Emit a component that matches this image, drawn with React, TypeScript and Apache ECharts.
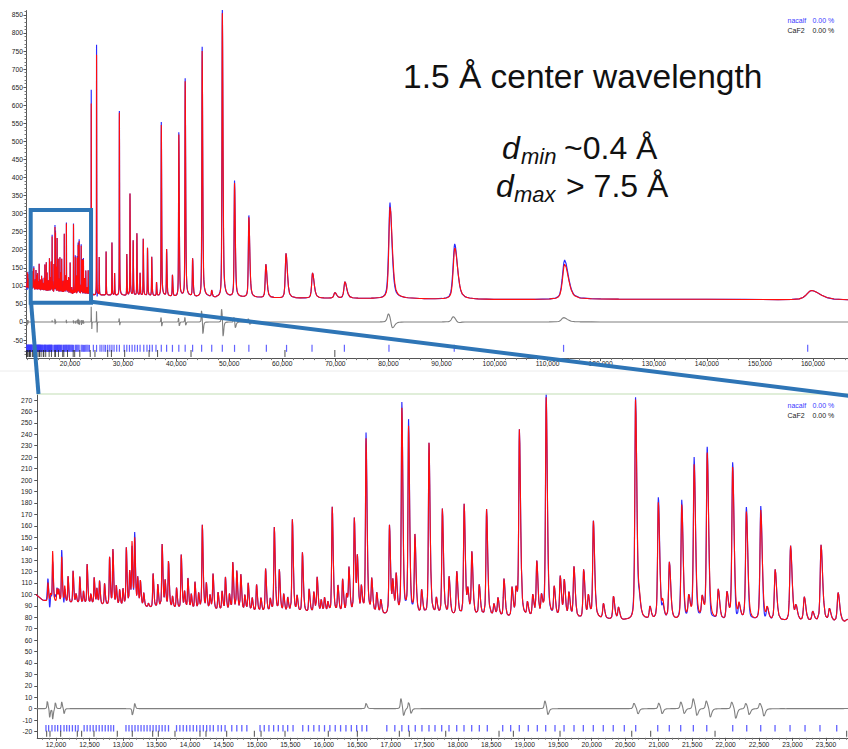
import { useEffect, useRef } from "react";
import * as echarts from "echarts";

// ---------- data ----------
// background level (TOF, counts)
const bgX = [11700, 11800, 12000, 12500, 13000, 13500, 14000, 14500, 15000, 16000, 17000, 18000, 19000, 20000, 21000, 22000, 23000, 24000, 30000, 40000, 50000, 60000, 80000, 100000, 120000, 140000, 160000, 175000];
const bgY = [100, 95, 92, 91, 89, 88, 86, 85, 84, 83, 82, 81, 79, 78, 77, 76, 76, 75, 74, 71, 69, 66, 65, 62, 63, 63, 61, 60];

// peak half width at half maximum vs TOF
const widthX = [11700, 16000, 20000, 24000, 35000, 50000, 60000, 80000, 93000, 113000, 160000, 175000];
const widthW = [9, 13, 17, 22, 55, 120, 230, 380, 500, 650, 1500, 1600];

// peaks in the zoomed region (TOF, peak top)
const peakX = [11880, 11950, 12015, 12085, 12180, 12255, 12355, 12465, 12570, 12650, 12725, 12800, 12850, 12950, 13050, 13135, 13175, 13310, 13450, 13585, 13680, 13800, 13870, 13970, 14075, 14185, 14245, 14345, 14420, 14530, 14640, 14700, 14760, 14870, 14995, 15130, 15260, 15335, 15400, 15530, 15680, 15780, 15850, 15900, 16010, 16125, 16210, 16280, 16375, 16455, 16500, 16630, 16715, 16790, 16980, 17080, 17165, 17265, 17360, 17570, 17770, 17870, 17985, 18095, 18210, 18320, 18430, 18690, 18810, 18920, 19040, 19180, 19320, 19440, 19530, 19590, 19735, 19880, 20025, 20175, 20325, 20655, 20710, 20995, 21160, 21345, 21530, 21725, 21890, 22105, 22310, 22525, 22740, 22970, 23175, 23425, 23680];
const peakH = [110, 137, 104, 132, 115, 120, 115, 126, 114, 111, 109, 132, 138, 103, 140, 143, 146, 100, 118, 143, 128, 105, 134, 113, 110, 160, 108, 117, 101, 114, 127, 119, 116, 109, 108, 122, 158, 120, 99, 165, 136, 104, 101, 114, 96, 176, 106, 112, 121, 165, 128, 235, 111, 100, 160, 115, 261, 244, 149, 232, 174, 114, 119, 178, 135, 107, 174, 113, 105, 242, 91, 127, 271, 104, 114, 110, 123, 121, 163, 91, 98, 270, 90, 180, 127, 178, 212, 222, 103, 210, 171, 173, 121, 142, 97, 143, 101];

// small peaks / shoulders in the zoomed region
const minorPeakX = [11920, 12040, 12130, 12300, 12410, 12520, 12610, 12900, 13000, 13100, 13220, 13260, 13380, 13520, 13630, 13740, 13920, 14020, 14130, 14300, 14480, 14590, 14820, 14930, 15060, 15200, 15460, 15600, 15960, 16060, 16340, 16560, 16850, 17030, 17460, 17680, 18150, 18540, 18600, 18870, 19120, 19250, 19660, 19950, 20400, 20870, 21060, 21450, 21650, 22020, 22200, 22620, 23050, 23300, 23550];
const minorPeakH = [100, 103, 106, 100, 102, 100, 104, 106, 104, 118, 112, 110, 92, 108, 110, 97, 101, 99, 100, 98, 102, 99, 98, 96, 96, 95, 96, 97, 94, 92, 98, 104, 94, 108, 102, 95, 100, 90, 96, 102, 98, 96, 100, 97, 88, 88, 90, 96, 94, 100, 88, 86, 88, 84, 86];

// peaks beyond the zoomed region (full pattern)
const farPeakX = [24000, 25000, 25500, 26800, 27900, 28400, 29300, 30700, 31300, 31900, 32600, 33200, 33800, 34600, 35400, 36300, 37200, 38200, 39300, 40500, 41700, 43100, 44900, 46700, 48700, 51000, 53700, 56900, 60700, 65700, 69900, 71800, 80300, 92500, 113200, 159700];
const farPeakH = [605, 740, 180, 195, 220, 135, 580, 188, 355, 225, 245, 135, 230, 205, 180, 110, 545, 200, 130, 520, 665, 175, 750, 88, 855, 385, 290, 160, 190, 136, 81, 111, 318, 205, 160, 87];

// observed minus calculated misfits (TOF, counts)
const misfitX = [11870, 11905, 11950, 11990, 12085, 12120, 13140, 13175, 16630, 17150, 17190, 17265, 17300, 19300, 19345, 20630, 20690, 21000, 21050, 21330, 21380, 21515, 21570, 21710, 21770, 22090, 22150, 22300, 22350, 22510, 22570, 23990, 24110, 24990, 25110, 29250, 29380, 37150, 37280, 40450, 40580, 41650, 41780, 44780, 45040, 48560, 48840, 50900, 51140, 53600, 53850, 80000, 80700, 92200, 93000, 113000];
const misfitH = [7, -8, -9, 6, 6, -5, -6, 5, 5, 9, -7, 6, -5, 7, -6, 5, -5, 5, -5, 6, -5, 9, -7, 7, -8, 6, -9, 5, -6, 5, -7, 42, -22, 30, -30, 10, -10, 15, -15, 12, -15, 15, -15, 32, -38, 37, -45, 15, -20, 10, -10, 24, -22, 15, -5, 12];

// reflection tick marks
const nacalfTicks = [11850, 11890, 11940, 11985, 12025, 12070, 12120, 12160, 12200, 12245, 12290, 12330, 12420, 12465, 12510, 12555, 12600, 12645, 12690, 12735, 12780, 12820, 12860, 13045, 13090, 13135, 13180, 13225, 13270, 13315, 13360, 13405, 13450, 13495, 13540, 13585, 13630, 13680, 13800, 13850, 13900, 13950, 14000, 14050, 14100, 14150, 14200, 14250, 14300, 14350, 14420, 14470, 14525, 14625, 14700, 14775, 14850, 15047, 15110, 15180, 15250, 15320, 15390, 15460, 15540, 15685, 15770, 15850, 15930, 16010, 16090, 16170, 16250, 16330, 16410, 16490, 16570, 16640, 16940, 17060, 17165, 17265, 17365, 17465, 17570, 17660, 17760, 17869, 17984, 18093, 18208, 18322, 18441, 18671, 18790, 18919, 19053, 19188, 19313, 19452, 19587, 19736, 19875, 20024, 20173, 20322, 20487, 20657, 20986, 21159, 21329, 21518, 21718, 22106, 22315, 22524, 22738, 22962, 23186, 23409, 23659, 24400, 25000, 25650, 26000, 26400, 26700, 27100, 27500, 27900, 28300, 28800, 29300, 30200, 30700, 31200, 31700, 32200, 32700, 33200, 33900, 34500, 35000, 35500, 36200, 37200, 38200, 39300, 40500, 41700, 43100, 44800, 46700, 48700, 51000, 53700, 57000, 60800, 65600, 71700, 80100, 92400, 113000, 159000];
const caf2Ticks = [11861, 11910, 12070, 12318, 12383, 12567, 12915, 13139, 13444, 13528, 13777, 14150, 14240, 14549, 14962, 15062, 15420, 16066, 16500, 17127, 17276, 17820, 18616, 18830, 19527, 20598, 20881, 21842, 23808];
const caf2FarTicks = [24700, 27100, 27800, 30300, 34900, 36500, 42800, 60500, 69900];

// axis labels
const topXLabels = [20000, 30000, 40000, 50000, 60000, 70000, 80000, 90000, 100000, 110000, 120000, 130000, 140000, 150000, 160000, 170000];
const topYLabels = [-50, 0, 50, 100, 150, 200, 250, 300, 350, 400, 450, 500, 550, 600, 650, 700, 750, 800, 850];
const bottomXLabels = [12000, 12500, 13000, 13500, 14000, 14500, 15000, 15500, 16000, 16500, 17000, 17500, 18000, 18500, 19000, 19500, 20000, 20500, 21000, 21500, 22000, 22500, 23000, 23500];
const bottomYLabels = [-20, -10, 0, 10, 20, 30, 40, 50, 60, 70, 80, 90, 100, 110, 120, 130, 140, 150, 160, 170, 180, 190, 200, 210, 220, 230, 240, 250, 260, 270];

const zoomBoxX = [12590, 23960];
const zoomBoxY = [53, 310];

// ---------- helpers ----------
const FONT = '"Liberation Sans", Arial, Helvetica, sans-serif';
const fmt = (v: number) => Math.round(v).toLocaleString("en-US");

function interp(xs: number[], ys: number[], x: number) {
  if (x <= xs[0]) return ys[0];
  for (let i = 1; i < xs.length; i++) {
    if (x <= xs[i]) {
      const f = (x - xs[i - 1]) / (xs[i] - xs[i - 1]);
      return ys[i - 1] + f * (ys[i] - ys[i - 1]);
    }
  }
  return ys[ys.length - 1];
}
const ETA = 0.5;
function shape(t: number) {
  return ETA / (1 + t * t) + (1 - ETA) * Math.exp(-Math.LN2 * t * t);
}
const hwhm = (x: number) => interp(widthX, widthW, x);
function peakSum(x: number, cx: number[], amp: number[]) {
  let s = 0;
  for (let i = 0; i < cx.length; i++) {
    const w = hwhm(cx[i]);
    const d = x - cx[i];
    const h = d < 0 ? 0.7 * w : 1.3 * w;
    const t = d / h;
    if (t > 14 || t < -14) continue;
    s += amp[i] * shape(t);
  }
  return s;
}

function buildProfiles() {
  const px = [...peakX, ...minorPeakX, ...farPeakX];
  const ph = [...peakH, ...minorPeakH, ...farPeakH];
  const amps = px.map((x, i) => ph[i] - interp(bgX, bgY, x));
  const OFFS = [-12, -6, -3.5, -2.2, -1.5, -1, -0.6, -0.3, 0, 0.3, 0.6, 1, 1.5, 2.2, 3.5, 6, 12];
  let xs: number[] = [...bgX];
  for (const c of [...px, ...misfitX]) {
    const w = hwhm(c);
    for (const t of OFFS) xs.push(c + t * (t < 0 ? 0.7 : 1.3) * w);
  }
  xs.sort((a, b) => a - b);
  const uniq: number[] = [];
  for (const x of xs) if (!uniq.length || x - uniq[uniq.length - 1] > 0.5) uniq.push(x);
  const calc: number[][] = [];
  const obs: number[][] = [];
  const diff: number[][] = [];
  for (const x of uniq) {
    const c = interp(bgX, bgY, x) + peakSum(x, px, amps);
    const m = peakSum(x, misfitX, misfitH);
    calc.push([x, c]);
    obs.push([x, c + m]);
    diff.push([x, m]);
  }
  return { calc, obs, diff };
}

function minorList(from: number, to: number, step: number, skip: number) {
  const out: number[] = [];
  for (let v = from; v <= to + 1e-6; v += step) {
    const r = Math.round(v);
    if (r % skip !== 0) out.push(r);
  }
  return out;
}

function mainAxis(grid: number, min: number, max: number, labels: number[], margin: number, position: string) {
  return {
    type: "value",
    gridIndex: grid,
    min,
    max,
    position,
    axisLine: { show: true, onZero: false, lineStyle: { color: "#555", width: 1 } },
    axisTick: { show: true, customValues: labels, length: 3, lineStyle: { color: "#555" } },
    axisLabel: { show: true, customValues: labels, formatter: fmt, fontSize: 6.7, color: "#222", fontFamily: FONT, margin },
    splitLine: { show: false },
  };
}
function minorAxis(grid: number, min: number, max: number, values: number[], position: string) {
  return {
    type: "value",
    gridIndex: grid,
    min,
    max,
    position,
    axisLine: { show: false, onZero: false },
    axisTick: { show: true, customValues: values, length: 2, lineStyle: { color: "#777" } },
    axisLabel: { show: false },
    splitLine: { show: false },
  };
}

function buildOption() {
  const { calc, obs, diff } = buildProfiles();
  const series: any[] = [];
  const grids = [
    { xi: 0, yi: 0, blueY: -73, blackY: -87, nac: nacalfTicks, caf: [...caf2Ticks, ...caf2FarTicks], bs: [1.2, 7], ks: [1, 7] },
    { xi: 2, yi: 2, blueY: -17.2, blackY: -22, nac: nacalfTicks, caf: caf2Ticks, bs: [1.3, 6.5], ks: [1, 6] },
  ];
  for (const g of grids) {
    series.push({
      type: "line", xAxisIndex: g.xi, yAxisIndex: g.yi, data: obs, showSymbol: false, silent: true,
      lineStyle: { color: "#2a2aff", width: 1.15 }, z: 2,
    });
    series.push({
      type: "line", xAxisIndex: g.xi, yAxisIndex: g.yi, data: calc, showSymbol: false, silent: true,
      lineStyle: { color: "#ff0d0d", width: 1.1 }, z: 3,
    });
    series.push({
      type: "line", xAxisIndex: g.xi, yAxisIndex: g.yi, data: diff, showSymbol: false, silent: true,
      lineStyle: { color: "#808080", width: 1.1 }, z: 2,
    });
    series.push({
      type: "scatter", xAxisIndex: g.xi, yAxisIndex: g.yi, silent: true, symbol: "rect", symbolSize: g.bs,
      data: g.nac.map((x) => [x, g.blueY]), itemStyle: { color: "#3c3cff" }, z: 2,
    });
    series.push({
      type: "scatter", xAxisIndex: g.xi, yAxisIndex: g.yi, silent: true, symbol: "rect", symbolSize: g.ks,
      data: g.caf.map((x) => [x, g.blackY]), itemStyle: { color: "#222" }, z: 2,
    });
  }

  return {
    animation: false,
    backgroundColor: "#ffffff",
    grid: [
      { left: 26.5, top: 10.6, width: 866.1, height: 347.5, containLabel: false, outerBoundsMode: "none" },
      { left: 37.25, top: 394.3, width: 815.6, height: 343.5, containLabel: false, outerBoundsMode: "none" },
    ],
    xAxis: [
      mainAxis(0, 11800, 175000, topXLabels, 2, "bottom"),
      minorAxis(0, 11800, 175000, minorList(12000, 174000, 2000, 10000), "bottom"),
      mainAxis(1, 11720, 23900, bottomXLabels, 3, "bottom"),
      minorAxis(1, 11720, 23900, minorList(11800, 23900, 100, 500), "bottom"),
    ],
    yAxis: [
      mainAxis(0, -100, 862, topYLabels, 3.5, "left"),
      minorAxis(0, -100, 862, minorList(-90, 860, 10, 50), "left"),
      mainAxis(1, -25.5, 275, bottomYLabels, 5, "left"),
      minorAxis(1, -25.5, 275, [], "left"),
    ],
    series,
  };
}

export default function App() {
  const ref = useRef<HTMLDivElement>(null);
  useEffect(() => {
    if (!ref.current) return;
    const chart = echarts.init(ref.current, null, { renderer: "svg" });
    chart.setOption(buildOption() as any);
    const a = chart.convertToPixel({ xAxisIndex: 0, yAxisIndex: 0 }, [zoomBoxX[0], zoomBoxY[1]]) as number[];
    const b = chart.convertToPixel({ xAxisIndex: 0, yAxisIndex: 0 }, [zoomBoxX[1], zoomBoxY[0]]) as number[];
    const blue = "#2e75b6";
    const txt = (x: number, y: number, text: string, font: string, fill = "#111") => ({
      type: "text", x, y, z: 100, silent: true,
      style: { text, font, fill, align: "left", verticalAlign: "middle" },
    });
    chart.setOption({
      graphic: [
        { type: "line", silent: true, z: 90, shape: { x1: 37, y1: 394, x2: 848, y2: 394 }, style: { stroke: "#d6e8cc", lineWidth: 1.5 } },
        { type: "line", silent: true, z: 90, shape: { x1: 0, y1: 371, x2: 848, y2: 371 }, style: { stroke: "#ececec", lineWidth: 1 } },
        { type: "rect", silent: true, z: 100, shape: { x: a[0], y: a[1], width: b[0] - a[0], height: b[1] - a[1] }, style: { fill: "none", stroke: blue, lineWidth: 4 } },
        { type: "line", silent: true, z: 100, shape: { x1: a[0] + 0.5, y1: b[1] + 1, x2: 38.5, y2: 394 }, style: { stroke: blue, lineWidth: 4 } },
        { type: "line", silent: true, z: 100, shape: { x1: b[0], y1: b[1] - 1, x2: 862, y2: 397.5 }, style: { stroke: blue, lineWidth: 4 } },
        txt(403, 76.5, "1.5 Å center wavelength", `33.5px ${FONT}`),
        txt(502, 148.2, "d", `italic 32px ${FONT}`),
        txt(521, 156.4, "min", `italic 22px ${FONT}`),
        txt(564, 148.2, "~0.4 Å", `32px ${FONT}`),
        txt(496, 185.6, "d", `italic 32px ${FONT}`),
        txt(514, 194.1, "max", `italic 22px ${FONT}`),
        txt(566, 185.6, "> 7.5 Å", `32px ${FONT}`),
        txt(787.5, 20.8, "nacalf", `7px ${FONT}`, "#3a3aff"),
        txt(812.5, 20.8, "0.00 %", `7px ${FONT}`, "#3a3aff"),
        txt(787.5, 30.6, "CaF2", `7px ${FONT}`, "#222"),
        txt(812.5, 30.6, "0.00 %", `7px ${FONT}`, "#222"),
        txt(787.5, 405.8, "nacalf", `7px ${FONT}`, "#3a3aff"),
        txt(812.5, 405.8, "0.00 %", `7px ${FONT}`, "#3a3aff"),
        txt(787.5, 415, "CaF2", `7px ${FONT}`, "#222"),
        txt(812.5, 415, "0.00 %", `7px ${FONT}`, "#222"),
      ],
    } as any);
    return () => chart.dispose();
  }, []);
  return (
    <div style={{ position: "fixed", left: 0, top: 0, width: 848, height: 749, overflow: "hidden", background: "#fff" }}>
      <div ref={ref} style={{ width: 900, height: 749 }} />
    </div>
  );
}
